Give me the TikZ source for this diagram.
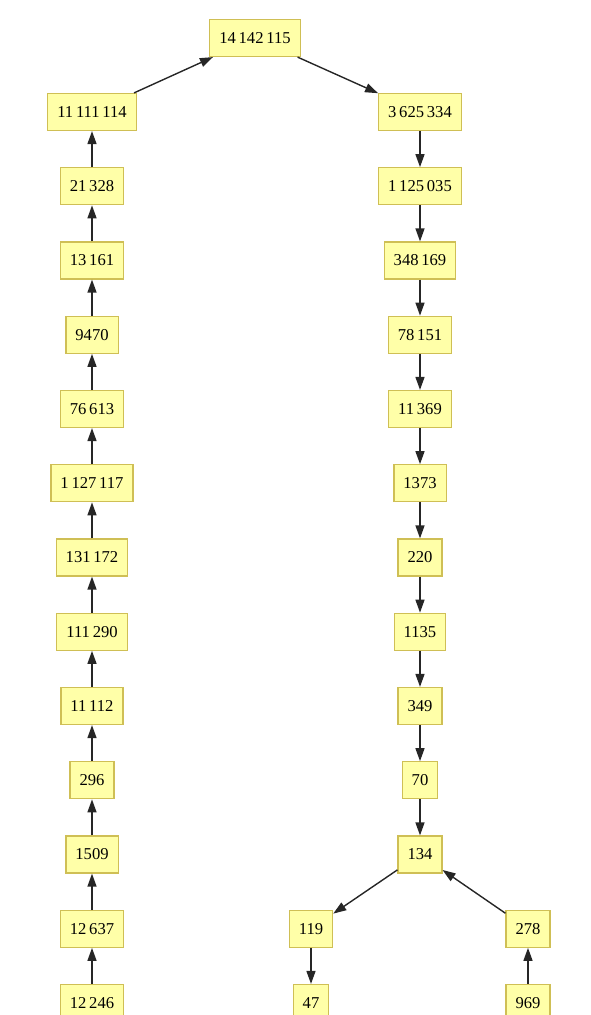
\documentclass[tikz,border=0pt]{standalone}
\usepackage{fontspec}
\setmainfont{Liberation Serif}
\usetikzlibrary{arrows.meta}
\definecolor{vfill}{HTML}{FFFFA8}
\definecolor{vedge}{HTML}{CFBF55}
\definecolor{cedge}{HTML}{262626}
\tikzset{
  vertex/.style={draw=vedge, fill=vfill, line width=1.2pt, minimum height=37pt, inner xsep=9.5pt, font=\fontsize{16.6}{19}\selectfont},
  link/.style={-{Triangle[length=13pt, width=9pt]}, draw=cedge, line width=1.4pt},
}
\begin{document}
\begin{tikzpicture}[x=1pt, y=-1pt]
  \useasboundingbox (0,0) rectangle (590,1015);
  \node[vertex] (top) at (255,38) {14\,142\,115};
  % left chain, drawn upwards
  \foreach \v [count=\j from 0] in {{11\,111\,114}, {21\,328}, {13\,161}, {9470}, {76\,613}, {1\,127\,117},
      {131\,172}, {111\,290}, {11\,112}, {296}, {1509}, {12\,637}, {12\,246}}
    \node[vertex] (l\j) at (92, 112+74.25*\j) {\v};
  % right chain, drawn downwards
  \foreach \v [count=\j from 0] in {{3\,625\,334}, {1\,125\,035}, {348\,169}, {78\,151}, {11\,369}, {1373},
      {220}, {1135}, {349}, {70}, {134}}
    \node[vertex] (r\j) at (420, 112+74.25*\j) {\v};
  \node[vertex] (a) at (311, 928.75) {119};
  \node[vertex] (b) at (528, 928.75) {278};
  \node[vertex] (c) at (311, 1003) {47};
  \node[vertex] (d) at (528, 1003) {969};
  \foreach \j [count=\k from 1] in {0,...,11} \draw[link] (l\k) -- (l\j);
  \foreach \j [count=\k from 1] in {0,...,9} \draw[link] (r\j) -- (r\k);
  \draw[link] (l0) -- (top);
  \draw[link] (top) -- (r0);
  \draw[link] (r10) -- (a);
  \draw[link] (b) -- (r10);
  \draw[link] (a) -- (c);
  \draw[link] (d) -- (b);
\end{tikzpicture}
\end{document}
